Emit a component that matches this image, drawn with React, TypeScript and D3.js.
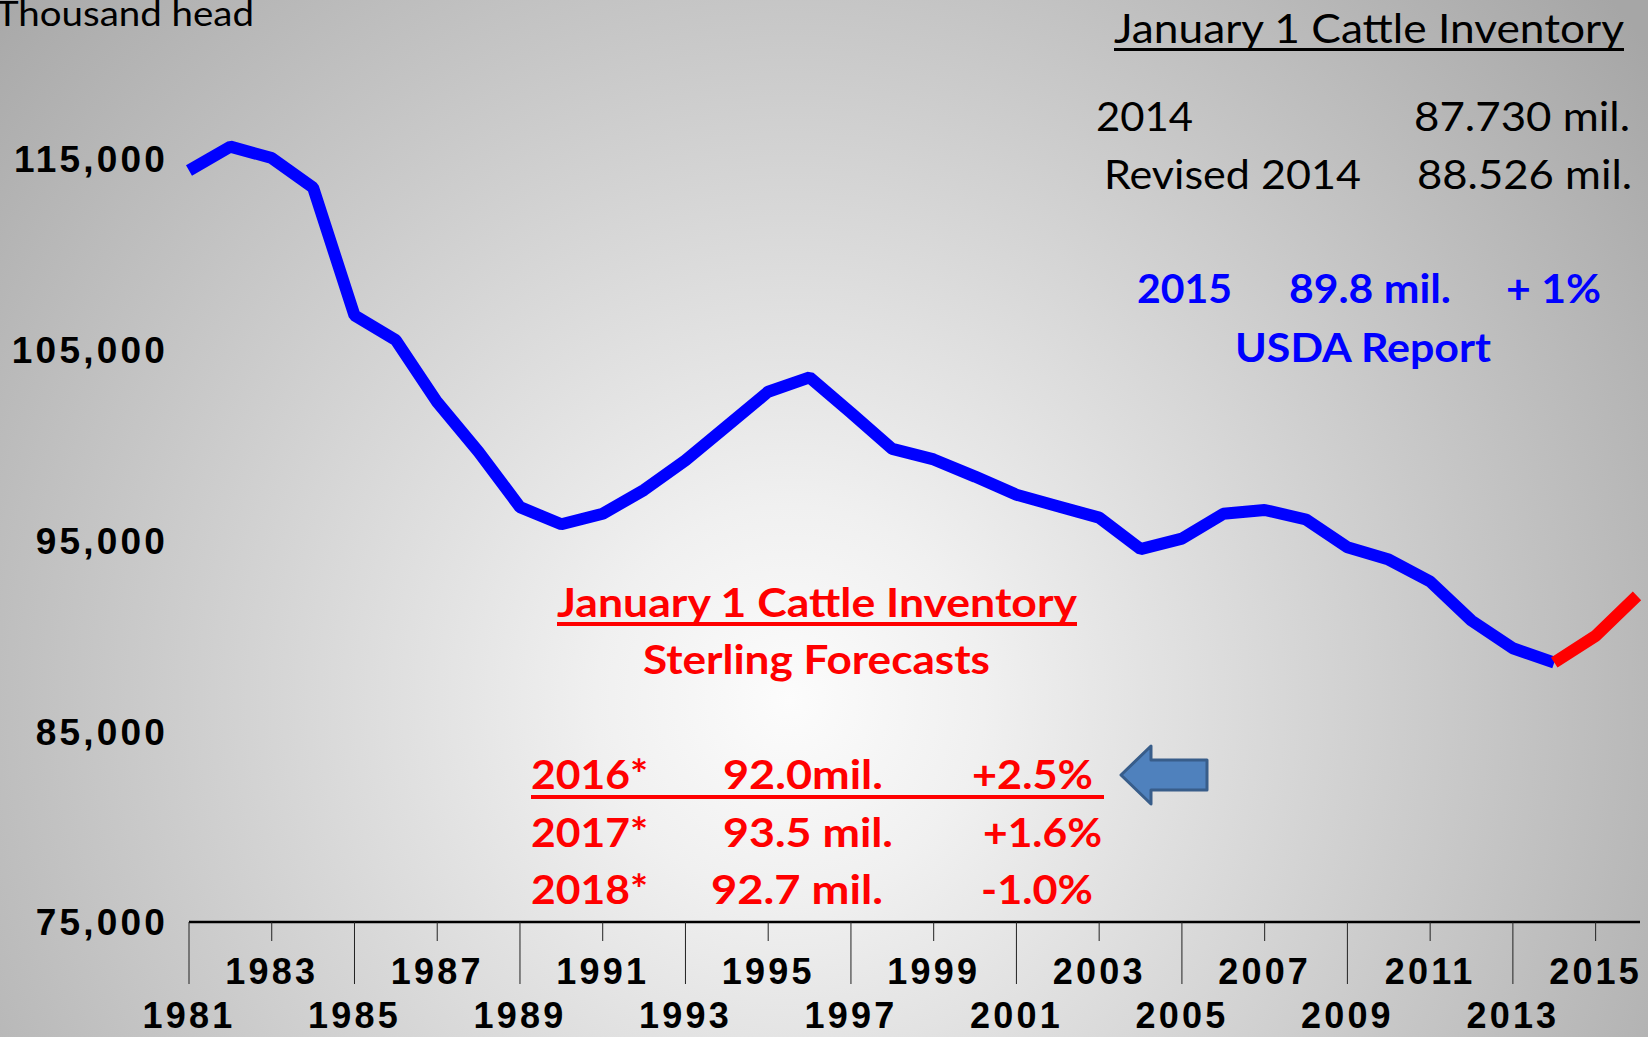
import React from "react";
import * as d3 from "d3";

// Jan 1 cattle inventory, thousand head
const years = [
  1981, 1982, 1983, 1984, 1985, 1986, 1987, 1988, 1989, 1990, 1991, 1992,
  1993, 1994, 1995, 1996, 1997, 1998, 1999, 2000, 2001, 2002, 2003, 2004,
  2005, 2006, 2007, 2008, 2009, 2010, 2011, 2012, 2013, 2014,
];
const inventory = [
  114400, 115650, 115050, 113500, 106800, 105500, 102250, 99650, 96750, 95850,
  96400, 97650, 99200, 101000, 102800, 103550, 101700, 99800, 99250, 98350,
  97400, 96800, 96200, 94550, 95100, 96400, 96600, 96100, 94650, 94000, 92850,
  90800, 89350, 88600,
];
const forecastYears = [2014, 2015, 2016];
const forecast = [88600, 90000, 92100];

const yTicks = [75000, 85000, 95000, 105000, 115000];
const xTickYears = [
  1981, 1983, 1985, 1987, 1989, 1991, 1993, 1995, 1997, 1999, 2001, 2003,
  2005, 2007, 2009, 2011, 2013, 2015,
];

const W = 1648;
const H = 1037;
const AXIS_Y = 922;

const calibri = "Lato, 'Open Sans', sans-serif";
const arial = "'Liberation Sans', Arial, sans-serif";

export default function App() {
  const x = d3.scaleLinear().domain([1981, 2016]).range([189, 1637]);
  const y = d3.scaleLinear().domain([75000, 115000]).range([AXIS_Y, 159]);

  const line = d3
    .line<[number, number]>()
    .x((d) => x(d[0]))
    .y((d) => y(d[1]));

  const histPath = line(years.map((yr, i) => [yr, inventory[i]]));
  const fcPath = line(forecastYears.map((yr, i) => [yr, forecast[i]]));
  const fmt = d3.format(",");

  return (
    <svg
      width={W}
      height={H}
      style={{ position: "absolute", left: 0, top: 0 }}
    >
      <defs>
        <radialGradient
          id="bg"
          gradientUnits="userSpaceOnUse"
          cx={790}
          cy={700}
          r={1080}
        >
          <stop offset="0" stopColor="#fcfcfc" />
          <stop offset="0.18" stopColor="#f0f0f0" />
          <stop offset="1" stopColor="#a6a6a6" />
        </radialGradient>
      </defs>
      <rect width={W} height={H} fill="url(#bg)" />

      {/* y labels */}
      {yTicks.map((t) => (
        <text
          key={t}
          x={168}
          y={y(t)}
          dy="0.36em"
          textAnchor="end"
          fontFamily={arial}
          fontWeight="bold"
          fontSize={37}
          letterSpacing={3.2}
          fill="#000"
        >
          {fmt(t)}
        </text>
      ))}

      {/* x axis */}
      <line x1={189} x2={1640} y1={AXIS_Y} y2={AXIS_Y} stroke="#000" strokeWidth={2.5} />
      {xTickYears.map((yr, i) => {
        const long = i % 2 === 0;
        return (
          <g key={yr}>
            <line
              x1={x(yr)}
              x2={x(yr)}
              y1={AXIS_Y}
              y2={long ? 984 : 941}
              stroke="#222"
              strokeWidth={1}
            />
            <text
              x={x(yr)}
              y={long ? 1028 : 984}
              textAnchor="middle"
              fontFamily={arial}
              fontWeight="bold"
              fontSize={36}
              letterSpacing={3.2}
              fill="#000"
            >
              {yr}
            </text>
          </g>
        );
      })}

      {/* series */}
      <path
        d={histPath || ""}
        fill="none"
        stroke="#0000ff"
        strokeWidth={12}
        strokeLinejoin="bevel"
      />
      <path
        d={fcPath || ""}
        fill="none"
        stroke="#ff0000"
        strokeWidth={12}
        strokeLinejoin="bevel"
      />

      {/* axis title */}
      <text x={-4} y={26} fontFamily={calibri} fontSize={34} fill="#000" textLength={258} lengthAdjust="spacingAndGlyphs">
        Thousand head
      </text>

      {/* USDA box */}
      <g fontFamily={calibri} fill="#000">
        <text x={1114} y={43} fontSize={40} textLength={510} lengthAdjust="spacingAndGlyphs">
          January 1 Cattle Inventory
        </text>
        <rect x={1114} y={48} width={510} height={3} fill="#000" />
        <text x={1096} y={131} fontSize={40} textLength={97} lengthAdjust="spacingAndGlyphs">
          2014
        </text>
        <text x={1414} y={131} fontSize={40} textLength={216} lengthAdjust="spacingAndGlyphs">
          87.730 mil.
        </text>
        <text x={1104} y={189} fontSize={40} textLength={257} lengthAdjust="spacingAndGlyphs">
          Revised 2014
        </text>
        <text x={1417} y={189} fontSize={40} textLength={215} lengthAdjust="spacingAndGlyphs">
          88.526 mil.
        </text>
      </g>
      <g fontFamily={calibri} fontWeight="bold" fill="#0000ff" fontSize={41}>
        <text x={1137} y={303} textLength={95} lengthAdjust="spacingAndGlyphs">2015</text>
        <text x={1289} y={303} textLength={162} lengthAdjust="spacingAndGlyphs">89.8 mil.</text>
        <text x={1506} y={303} textLength={95} lengthAdjust="spacingAndGlyphs">+ 1%</text>
        <text x={1235} y={362} textLength={256} lengthAdjust="spacingAndGlyphs">USDA Report</text>
      </g>

      {/* Sterling forecasts */}
      <g fontFamily={calibri} fontWeight="bold" fill="#ff0000" fontSize={41}>
        <text x={557} y={617} textLength={520} lengthAdjust="spacingAndGlyphs">
          January 1 Cattle Inventory
        </text>
        <rect x={557} y={622} width={520} height={4} fill="#ff0000" />
        <text x={643} y={674} textLength={347} lengthAdjust="spacingAndGlyphs">
          Sterling Forecasts
        </text>

        <text x={531} y={789} textLength={117} lengthAdjust="spacingAndGlyphs">2016*</text>
        <text x={723} y={789} textLength={160} lengthAdjust="spacingAndGlyphs">92.0mil.</text>
        <text x={972} y={789} textLength={121} lengthAdjust="spacingAndGlyphs">+2.5%</text>
        <rect x={531} y={795} width={573} height={4} fill="#ff0000" />

        <text x={531} y={847} textLength={117} lengthAdjust="spacingAndGlyphs">2017*</text>
        <text x={723} y={847} textLength={170} lengthAdjust="spacingAndGlyphs">93.5 mil.</text>
        <text x={983} y={847} textLength={119} lengthAdjust="spacingAndGlyphs">+1.6%</text>

        <text x={531} y={904} textLength={117} lengthAdjust="spacingAndGlyphs">2018*</text>
        <text x={711} y={904} textLength={172} lengthAdjust="spacingAndGlyphs">92.7 mil.</text>
        <text x={981} y={904} textLength={112} lengthAdjust="spacingAndGlyphs">-1.0%</text>
      </g>

      {/* arrow */}
      <path
        d="M1121,775 L1151,746 L1151,760 L1207,760 L1207,790 L1151,790 L1151,804 Z"
        fill="#4f81bd"
        stroke="#385d8a"
        strokeWidth={3}
        strokeLinejoin="round"
      />
    </svg>
  );
}
